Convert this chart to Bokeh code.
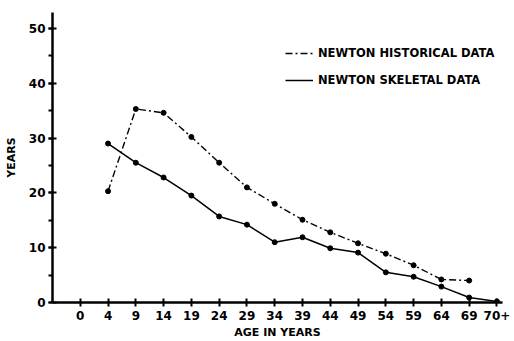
from bokeh.plotting import figure
from bokeh.models import Range1d, FixedTicker, SingleIntervalTicker, Legend, LegendItem, ColumnDataSource
from bokeh.embed import file_html
from bokeh.resources import INLINE

age_labels = ["0", "4", "9", "14", "19", "24", "29", "34", "39", "44", "49", "54", "59", "64", "69", "70+"]
hist_ages = ["4", "9", "14", "19", "24", "29", "34", "39", "44", "49", "54", "59", "64", "69"]
hist_values = [20.3, 35.3, 34.6, 30.2, 25.5, 21.0, 18.0, 15.1, 12.8, 10.8, 8.9, 6.8, 4.2, 4.0]
skel_ages = ["4", "9", "14", "19", "24", "29", "34", "39", "44", "49", "54", "59", "64", "69", "70+"]
skel_values = [29.0, 25.5, 22.8, 19.5, 15.7, 14.2, 11.0, 11.9, 9.9, 9.1, 5.5, 4.7, 2.9, 0.9, 0.2]

FONT = "DejaVu Sans"

p = figure(width=514, height=341, output_backend="svg", toolbar_location=None,
           x_range=Range1d(-1, 15.2), y_range=Range1d(0, 52.9),
           min_border_left=52, min_border_right=12, min_border_top=12, min_border_bottom=39,
           background_fill_color="white", border_fill_color="white")
p.outline_line_color = None
p.xgrid.visible = False
p.ygrid.visible = False

hist_src = ColumnDataSource(dict(x=[age_labels.index(a) for a in hist_ages], y=hist_values))
skel_src = ColumnDataSource(dict(x=[age_labels.index(a) for a in skel_ages], y=skel_values))

r_hist = p.line("x", "y", source=hist_src, line_color="black", line_width=1.4, line_dash="7 3 2 3")
p.scatter("x", "y", source=hist_src, size=5, color="black")
r_skel = p.line("x", "y", source=skel_src, line_color="black", line_width=1.5)
p.scatter("x", "y", source=skel_src, size=5, color="black")

# axes
xa = p.xaxis[0]
xa.ticker = FixedTicker(ticks=list(range(len(age_labels))))
xa.major_label_overrides = {i: lab for i, lab in enumerate(age_labels)}
xa.axis_label = "AGE IN YEARS"
ya = p.yaxis[0]
ya.ticker = SingleIntervalTicker(interval=10, num_minor_ticks=2)
ya.axis_label = "YEARS"

for ax in (xa, ya):
    ax.axis_line_width = 2.5
    ax.axis_line_color = "black"
    ax.major_tick_line_width = 2
    ax.major_tick_line_color = "black"
    ax.major_tick_in = 4
    ax.major_tick_out = 4
    ax.minor_tick_line_width = 2
    ax.minor_tick_line_color = "black"
    ax.minor_tick_in = 0
    ax.minor_tick_out = 4
    ax.major_label_text_font = FONT
    ax.major_label_text_font_style = "bold"
    ax.major_label_text_font_size = "12px"
    ax.major_label_text_color = "black"
    ax.axis_label_text_font = FONT
    ax.axis_label_text_font_style = "bold"
    ax.axis_label_text_font_size = "11px"
    ax.axis_label_text_color = "black"

xa.major_label_standoff = 4
xa.axis_label_standoff = 3
ya.major_label_standoff = 3
ya.axis_label_standoff = 8

legend = Legend(items=[
    LegendItem(label="NEWTON HISTORICAL DATA", renderers=[r_hist]),
    LegendItem(label="NEWTON SKELETAL DATA", renderers=[r_skel]),
], location=(233, 212))
legend.glyph_width = 28
legend.glyph_height = 20
legend.label_height = 20
legend.spacing = 7
legend.padding = 0
legend.margin = 0
legend.label_standoff = 5
legend.border_line_color = None
legend.background_fill_alpha = 0
legend.label_text_font = FONT
legend.label_text_font_style = "bold"
legend.label_text_font_size = "11.5px"
legend.label_text_color = "black"
p.add_layout(legend, "center")

open("out.html", "w").write(file_html(p, INLINE))
